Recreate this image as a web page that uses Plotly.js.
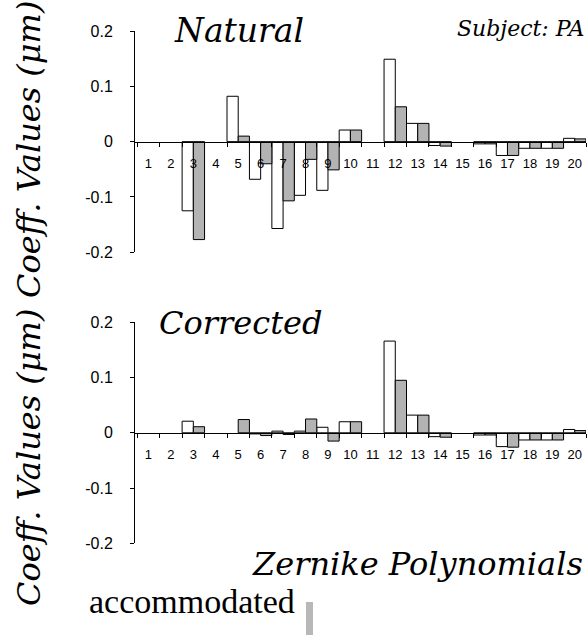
<!DOCTYPE html>
<html>
<head>
<meta charset="utf-8">
<script src="https://cdn.plot.ly/plotly-3.0.1.min.js"></script>
<style>html,body{margin:0;padding:0;background:#fff;}#chart{width:587px;height:635px;}</style>
</head>
<body>
<div id="chart"></div>
<script>
// Zernike polynomial index
const categories = ['1','2','3','4','5','6','7','8','9','10','11','12','13','14','15','16','17','18','19','20'];
// Natural panel (white = first series, gray = accommodated)
const naturalWhite = [null,null,-0.125,null,0.082,-0.068,-0.157,-0.097,-0.088,0.021,null,0.149,0.033,-0.007,null,-0.004,-0.025,-0.012,-0.012,0.006];
const naturalGray  = [null,null,-0.177,null,0.010,-0.040,-0.107,-0.032,-0.051,0.021,null,0.063,0.033,-0.008,null,-0.004,-0.025,-0.012,-0.012,0.005];
// Corrected panel
const correctedWhite = [null,null,0.021,null,null,-0.002,0.003,0.003,0.010,0.020,null,0.166,0.032,-0.007,null,-0.004,-0.025,-0.013,-0.013,0.006];
const correctedGray  = [null,null,0.011,null,0.024,-0.005,-0.003,0.025,-0.015,0.020,null,0.095,0.032,-0.008,null,-0.004,-0.026,-0.013,-0.013,0.004];
const yTickVals = [-0.2,-0.1,0,0.1,0.2];
const yTickText = ['-0.2','-0.1','0','0.1','0.2'];

const W = 587, H = 635;
const px = v => v / W;
const py = v => 1 - v / H;

const GRAY = '#b3b3b3';
function barTrace(y, color, xa, ya, name) {
  return {type:'bar', x:categories, y:y, xaxis:xa, yaxis:ya, name:name, showlegend:false,
    marker:{color:color, line:{color:'#000', width:1}}, hoverinfo:'x+y'};
}
const data = [
  barTrace(naturalWhite, '#ffffff', 'x', 'y', 'white'),
  barTrace(naturalGray, GRAY, 'x', 'y', 'accommodated'),
  barTrace(correctedWhite, '#ffffff', 'x2', 'y2', 'white'),
  barTrace(correctedGray, GRAY, 'x2', 'y2', 'accommodated')
];

const tickFontX = {family:'Liberation Sans', size:13, color:'#000'};
const tickFontY = {family:'Liberation Sans', size:16, color:'#000'};
function xAxis(pos) {
  return {domain:[px(135), px(586)], type:'category', range:[-0.6, 19.5], anchor:'free', position:pos,
    showline:true, linecolor:'#000', linewidth:1, ticks:'outside', tickson:'boundaries', ticklen:4,
    tickcolor:'#000', showgrid:false, zeroline:false, tickfont:tickFontX, tickangle:0, ticklabelstandoff:9, fixedrange:true};
}
function yAxis(dom, xa) {
  return {domain:dom, range:[-0.2, 0.2], anchor:xa, tickvals:yTickVals, ticktext:yTickText,
    showline:true, linecolor:'#000', linewidth:1, ticks:'outside', ticklen:4, tickcolor:'#000',
    showgrid:false, zeroline:false, tickfont:tickFontY, ticklabelstandoff:14, fixedrange:true};
}
const serifI = (s) => ({family:'DejaVu Serif', size:s, color:'#000', style:'italic'});
const ann = (text, x, y, xa, ya, font, extra) => Object.assign({text:text, x:x, y:y, xref:'paper', yref:'paper',
  xanchor:xa, yanchor:ya, showarrow:false, font:font}, extra || {});

const layout = {
  width:W, height:H, margin:{l:0, r:0, t:0, b:0}, paper_bgcolor:'#fff', plot_bgcolor:'rgba(0,0,0,0)',
  barmode:'group', bargap:0, bargroupgap:0, showlegend:false,
  xaxis: xAxis(py(142.3)),
  yaxis: yAxis([py(252.3), py(31)], 'x'),
  xaxis2: xAxis(py(433.3)),
  yaxis2: yAxis([py(543.3), py(322.3)], 'x2'),
  annotations: [
    ann('Natural', px(239), py(31), 'center', 'middle', serifI(33)),
    ann('Subject: PA', px(586), py(29), 'right', 'middle', serifI(22)),
    ann('Corrected', px(240), py(323), 'center', 'middle', serifI(32)),
    ann('Zernike Polynomials', px(585), py(564), 'right', 'middle', serifI(32)),
    ann('accommodated', px(87), py(601), 'left', 'middle', {family:'Liberation Serif', size:34, color:'#000'}),
    ann('Coeff. Values (μm)', px(29), py(150), 'center', 'middle', serifI(32), {textangle:-90}),
    ann('Coeff. Values (μm)', px(29), py(458), 'center', 'middle', serifI(32), {textangle:-90})
  ],
  shapes: [
    {type:'rect', xref:'paper', yref:'paper', x0:px(306), x1:px(313), y0:py(635), y1:py(602),
     fillcolor:'#b8b8b8', line:{width:0}}
  ]
};
Plotly.newPlot('chart', data, layout, {displayModeBar:false, staticPlot:true});
</script>
</body>
</html>
